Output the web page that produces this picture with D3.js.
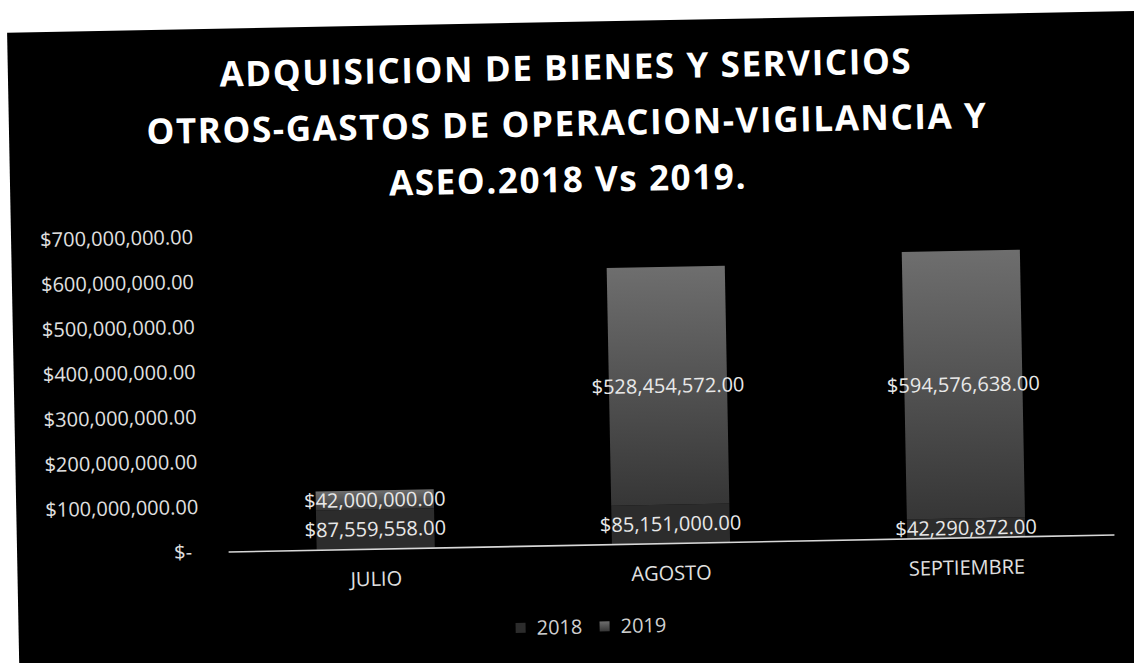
<!DOCTYPE html>
<html>
<head>
<meta charset="utf-8">
<script src="https://cdn.jsdelivr.net/npm/d3@7"></script>
<style>
  body { margin: 0; background: #fff; }
  svg { display: block; font-family: "Open Sans", sans-serif; }
</style>
</head>
<body>
<svg id="chart"></svg>
<script>
// data
const months = ["JULIO", "AGOSTO", "SEPTIEMBRE"];
const series = ["2018", "2019"];
const values2018 = [87559558, 85151000, 42290872];
const values2019 = [42000000, 528454572, 594576638];
const yTicks = [0, 100e6, 200e6, 300e6, 400e6, 500e6, 600e6, 700e6];
const titleLines = [
  "ADQUISICION DE BIENES Y SERVICIOS",
  "OTROS-GASTOS DE OPERACION-VIGILANCIA Y",
  "ASEO.2018 Vs 2019."
];

const width = 1134;
const height = 669;
const colors = { "2018": "#2c2c2c", "2019": "url(#grad2019)" };

const svg = d3.select("#chart")
  .attr("width", width)
  .attr("height", height);

const defs = svg.append("defs");
const grad = defs.append("linearGradient")
  .attr("id", "grad2019")
  .attr("x1", 0).attr("y1", 0).attr("x2", 0).attr("y2", 1);
grad.append("stop").attr("offset", "0%").attr("stop-color", "#6e6e6e");
grad.append("stop").attr("offset", "100%").attr("stop-color", "#363636");

svg.append("rect")
  .attr("width", width)
  .attr("height", height)
  .attr("fill", "#fff");

// the scan is slightly tilted
const page = svg.append("g")
  .attr("transform", "rotate(-1.1, 567, 335)");

page.append("rect")
  .attr("x", 13).attr("y", 22)
  .attr("width", 1170).attr("height", 700)
  .attr("fill", "#000");

// title
page.append("g").selectAll("text")
  .data(titleLines).enter()
  .append("text")
  .attr("x", 571)
  .attr("y", (d, i) => 80 + i * 56)
  .attr("text-anchor", "middle")
  .attr("fill", "#fff")
  .attr("font-size", 35)
  .attr("font-weight", 700)
  .attr("letter-spacing", 1.6)
  .text((d) => d);

const table = months.map((m, i) => ({ month: m, "2018": values2018[i], "2019": values2019[i] }));
const stacked = d3.stack().keys(series)(table);

const x = d3.scaleBand()
  .domain(months)
  .range([224, 1110])
  .paddingInner(0.6)
  .paddingOuter(0.3);

const y = d3.scaleLinear()
  .domain([0, 700e6])
  .range([545, 230]);

const money = (v) => v === 0 ? "$-" : "$" + d3.format(",.2f")(v);

// y axis labels
const yAxis = page.append("g")
  .attr("transform", "translate(195,0)")
  .call(d3.axisLeft(y).tickValues(yTicks).tickSize(0).tickPadding(0).tickFormat(money));
yAxis.select(".domain").remove();
yAxis.selectAll("text")
  .attr("font-family", "Open Sans")
  .attr("font-size", 20)
  .attr("fill", "#e0e0e0")
  .attr("dx", (d) => d === 0 ? -7 : 0);

// bars
page.append("g").selectAll("g")
  .data(stacked).enter()
  .append("g")
  .attr("fill", (s) => colors[s.key])
  .selectAll("rect")
  .data((s) => s).enter()
  .append("rect")
  .attr("x", (d) => x(d.data.month))
  .attr("width", x.bandwidth())
  .attr("y", (d) => y(d[1]))
  .attr("height", (d) => y(d[0]) - y(d[1]));

// x axis
const xAxis = page.append("g")
  .attr("transform", `translate(0,${y(0)})`)
  .call(d3.axisBottom(x).tickSize(0).tickPadding(23));
xAxis.select(".domain")
  .attr("stroke", "#d8d8d8")
  .attr("stroke-width", 1.6);
xAxis.selectAll("text")
  .attr("font-family", "Open Sans")
  .attr("font-size", 20)
  .attr("fill", "#e0e0e0");

// data labels, centred in each segment
page.append("g").selectAll("g")
  .data(stacked).enter()
  .append("g")
  .selectAll("text")
  .data((s) => s).enter()
  .append("text")
  .attr("x", (d) => x(d.data.month) + x.bandwidth() / 2)
  .attr("y", (d) => y((d[0] + d[1]) / 2))
  .attr("dy", "0.35em")
  .attr("text-anchor", "middle")
  .attr("font-size", 20)
  .attr("fill", "#e8e8e8")
  .text((d) => money(d[1] - d[0]));

// legend
const legend = page.append("g")
  .attr("transform", "translate(510,627)");
const item = legend.selectAll("g")
  .data(series).enter()
  .append("g")
  .attr("transform", (d, i) => `translate(${i * 84},0)`);
item.append("rect")
  .attr("x", 0).attr("y", -5)
  .attr("width", 10).attr("height", 10)
  .attr("fill", (d) => colors[d]);
item.append("text")
  .attr("x", 21)
  .attr("dy", "0.35em")
  .attr("font-size", 20)
  .attr("fill", "#d0d0d0")
  .text((d) => d);

// white paper strip at the bottom of the scan
svg.append("rect")
  .attr("x", 0).attr("y", 663)
  .attr("width", width).attr("height", 6)
  .attr("fill", "#fff");
</script>
</body>
</html>
